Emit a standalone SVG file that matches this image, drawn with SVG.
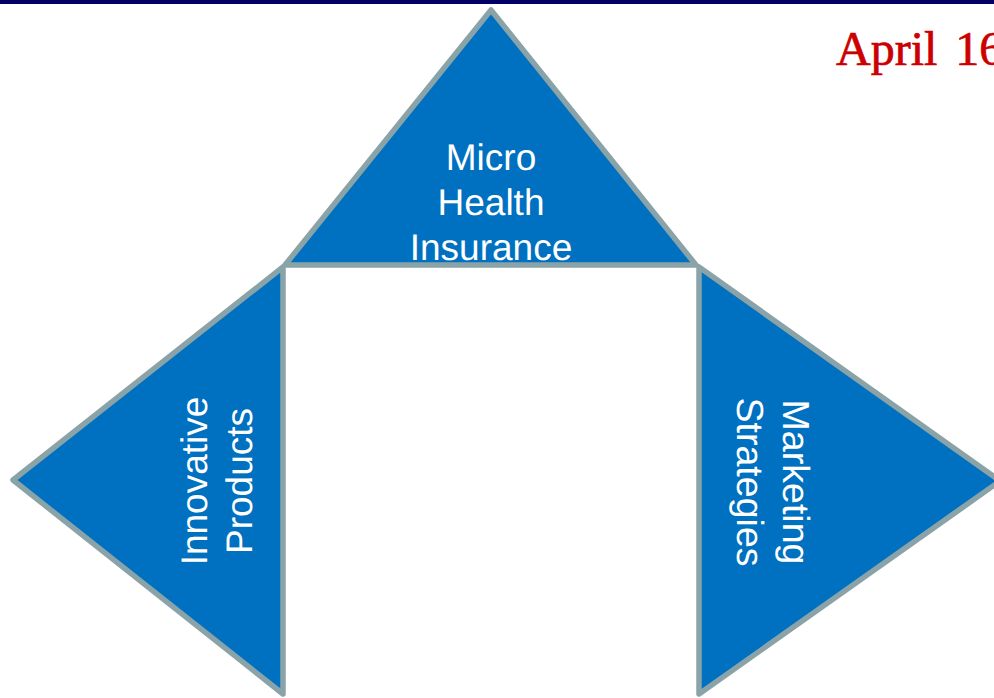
<svg xmlns="http://www.w3.org/2000/svg" width="994" height="698" viewBox="0 0 994 698">
  <style>
    .tri { fill: #0070c0; stroke: #8aa3a8; stroke-width: 5.5; stroke-linejoin: round; }
    .lbl { font-family: "Liberation Sans", Arial, sans-serif; font-size: 37px; fill: #ffffff; text-anchor: middle; text-rendering: geometricPrecision; }
    .lbl-r { font-size: 37.6px; }
    .date { font-family: "Liberation Serif", "Times New Roman", serif; font-size: 48px; fill: #cc0000; stroke: #cc0000; stroke-width: 0.7px; word-spacing: 6px; }
  </style>
  <rect width="994" height="698" fill="#ffffff"/>
  <rect id="top-bar" x="0" y="0" width="994" height="4" fill="#000066"/>
  <g id="connectors"></g>
  <g id="node-innovative-products">
    <polygon class="tri" points="13,480 283,267 283,694"/>
    <text class="lbl" transform="translate(207,481) rotate(-90)">Innovative</text>
    <text class="lbl" transform="translate(252,481) rotate(-90)">Products</text>
  </g>
  <g id="node-marketing-strategies">
    <polygon class="tri" points="699,267 699,694 1000,481"/>
    <text class="lbl lbl-r" transform="translate(783,482) rotate(90)">Marketing</text>
    <text class="lbl lbl-r" transform="translate(737,482) rotate(90)">Strategies</text>
  </g>
  <g id="node-micro-health-insurance">
    <polygon class="tri" points="491,10 285,265 696,265"/>
    <text class="lbl" x="491" y="170">Micro</text>
    <text class="lbl" x="491" y="215">Health</text>
    <text class="lbl" x="491" y="260">Insurance</text>
  </g>
  <text id="date" class="date" x="836" y="65">April 16</text>
</svg>
